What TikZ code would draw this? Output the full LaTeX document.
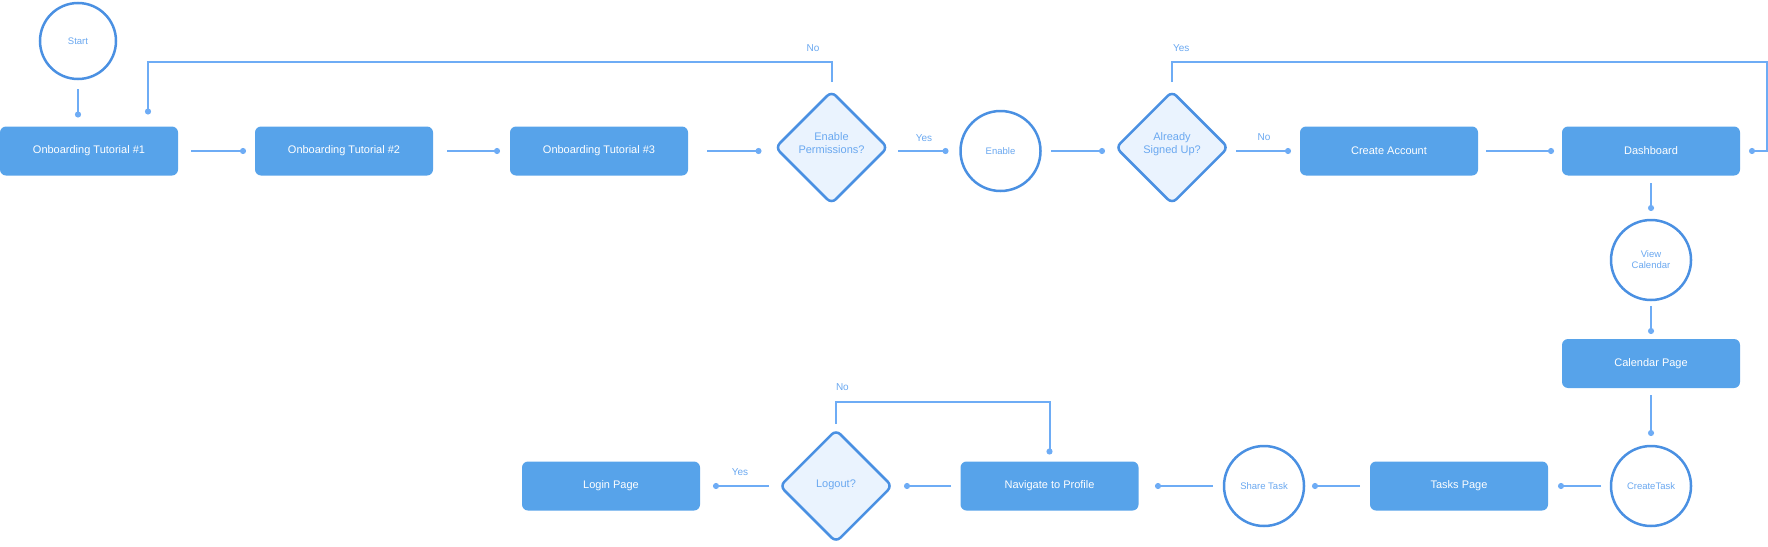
\documentclass[tikz,border=0pt]{standalone}
\usepackage{fontspec}
\setmainfont{Liberation Sans}
\usetikzlibrary{arrows.meta, positioning, shapes.geometric}
\definecolor{boxBlue}{RGB}{87,163,234}
\definecolor{lineBlue}{RGB}{110,172,245}
\definecolor{rimBlue}{RGB}{74,144,226}
\definecolor{paleBlue}{RGB}{234,243,254}
\definecolor{textBlue}{RGB}{106,168,240}
\tikzstyle{pageBox} = [rectangle, fill=boxBlue, rounded corners=6pt,
   text=white, minimum width=178pt, minimum height=49pt,
   font=\fontsize{11pt}{13pt}\selectfont]
\tikzstyle{actionCircle} = [circle, draw=rimBlue, line width=2.5pt, fill=white,
   minimum size=80pt, inner sep=0pt, text=textBlue, align=center,
   font=\fontsize{9.5pt}{11pt}\selectfont]
\tikzstyle{decision} = [diamond, draw=rimBlue, line width=2.5pt, fill=paleBlue,
   minimum size=112pt, inner sep=0pt, rounded corners=6pt, text=textBlue,
   align=center, text depth=8pt, font=\fontsize{11pt}{13pt}\selectfont]
\tikzstyle{flow} = [draw=lineBlue, line width=2pt, -{Circle[length=6pt]},
   shorten <=10pt, shorten >=9pt]
\tikzstyle{answer} = [text=textBlue, inner sep=0pt,
   font=\fontsize{10pt}{12pt}\selectfont]

\begin{document}
\begin{tikzpicture}[
  outer sep=0pt,
  node distance=77pt,
  ]
  \useasboundingbox (0,0) rectangle (1768pt,-546pt);
  % top row
  \node[actionCircle, minimum size=76pt] (start) at (78pt,-41pt) {Start};
  \node[pageBox] (tut1) at (89pt,-151pt) {Onboarding Tutorial \#1};
  \node[pageBox, right=of tut1] (tut2) {Onboarding Tutorial \#2};
  \node[pageBox, right=of tut2] (tut3) {Onboarding Tutorial \#3};
  \node[decision, right=87.5pt of tut3, yshift=3.5pt] (perm) {Enable\\Permissions?};
  \node[actionCircle, right=73pt of perm, yshift=-3.5pt] (enable) {Enable};
  \node[decision, right=75.5pt of enable, yshift=3.5pt] (signed) {Already\\Signed Up?};
  \node[pageBox, right=72pt of signed, yshift=-3.5pt] (account) {Create Account};
  \node[pageBox, right=84pt of account] (dash) {Dashboard};
  % right column
  \node[actionCircle, below=44.5pt of dash] (viewcal) {View\\Calendar};
  \node[pageBox, below=39pt of viewcal] (calpage) {Calendar Page};
  \node[actionCircle, below=58pt of calpage] (newtask) {CreateTask};
  % bottom row
  \node[pageBox, left=63pt of newtask] (tasks) {Tasks Page};
  \node[actionCircle, left=66pt of tasks] (share) {Share Task};
  \node[pageBox, left=85.5pt of share] (profile) {Navigate to Profile};
  \node[decision, left=68.5pt of profile, text depth=4pt] (logout) {Logout?};
  \node[pageBox, left=80pt of logout] (login) {Login Page};

  \draw[flow] (start.south) -- (start.south |- tut1.north);
  \draw[flow, shorten <=13pt] (tut1) -- (tut2);
  \draw[flow, shorten <=14pt, shorten >=10pt] (tut2) -- (tut3);
  \draw[flow, shorten <=19pt, shorten >=14pt] (tut3) -- (tut3 -| perm.west);
  \draw[flow, shorten <=10.5pt, shorten >=12pt] (perm.east |- enable) -- node[answer, above=9pt] {Yes} (enable);
  \draw[flow, shorten <=10.5pt, shorten >=11pt] (enable) -- (enable -| signed.west);
  \draw[flow, shorten <=8pt] (signed.east |- account) -- node[answer, above=10pt] {No} (account);
  \draw[flow, shorten <=8pt, shorten >=8pt] (account) -- (dash);
  \draw[flow, shorten <=7.5pt] (dash) -- (viewcal);
  \draw[flow, shorten <=6pt, shorten >=5pt] (viewcal) -- (calpage);
  \draw[flow, shorten <=7pt, shorten >=10pt] (calpage) -- (newtask);
  \draw[flow, shorten >=10pt] (newtask) -- (tasks);
  \draw[flow, shorten >=8pt] (tasks) -- (share);
  \draw[flow, shorten <=11pt, shorten >=16.5pt] (share) -- (profile);
  \draw[flow, shorten <=9.5pt, shorten >=12pt] (profile) -- (logout);
  \draw[flow, shorten <=11pt, shorten >=13pt] (logout) -- node[answer, above=10pt] {Yes} (login);
  % loops back
  \draw[flow, shorten <=9.5pt, shorten >=12pt] (perm.north) -- ++(0,29.5pt)
    node[answer, above left=10pt and 12pt] {No} -| ([xshift=59pt]tut1.north);
  \draw[flow, shorten <=9.5pt] (signed.north) -- ++(0,29.5pt)
    node[answer, above right=10pt and 1pt] {Yes} -| ([xshift=27pt]dash.east) -- (dash.east);
  \draw[flow, shorten <=6pt, shorten >=7pt] (logout.north) -- ++(0,28pt)
    node[answer, above right=11pt and 0pt] {No} -| (profile.north);
\end{tikzpicture}
\end{document}
